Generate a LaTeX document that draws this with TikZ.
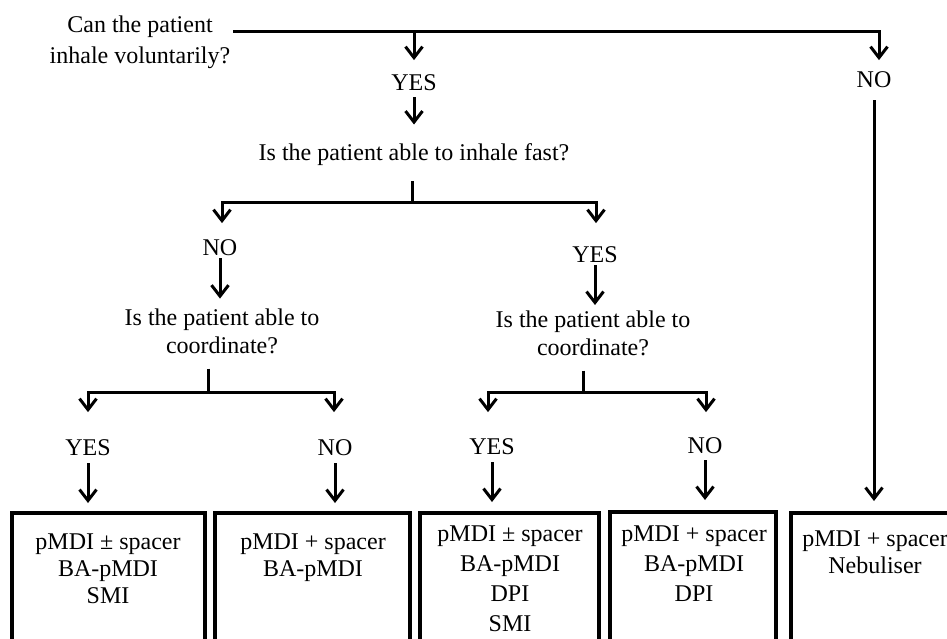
\documentclass[tikz,border=0pt]{standalone}
\usepackage{fontspec}
\setmainfont{Liberation Serif}
\usetikzlibrary{arrows.meta,calc}
\begin{document}
\begin{tikzpicture}[x=1pt,y=-1pt,
  lbl/.style={inner sep=0pt, outer sep=0pt, font=\fontsize{24}{28}\selectfont},
  conn/.style={line width=3pt},
  arr/.style={line width=3pt, -{Straight Barb[length=11pt,width=17pt]}},
  box/.style={draw, line width=3.5pt, inner sep=0pt, outer sep=0pt, anchor=north west, minimum height=150pt}
]
\useasboundingbox (0,0) rectangle (947,638);
\clip (0,0) rectangle (947,638);

% top question
\node[lbl, align=center, anchor=north, font=\fontsize{24}{31}\selectfont] (q1) at (140,15.7) {Can the patient\\inhale voluntarily?};
\coordinate (t0) at (233,31);
\coordinate (t1) at (414,31);
\coordinate (t2) at (879,31);
\node[lbl, anchor=base] (yes1) at (414,90) {YES};
\node[lbl, anchor=base] (no1) at (874,87) {NO};
\draw[arr, shorten >=11pt] (t0) -- (t2) -- (t2 |- no1.north);
\draw[arr, shorten >=14pt] (t1) -- (t1 |- yes1.north);

% second question
\node[lbl, anchor=base] (q2) at (414,160) {Is the patient able to inhale fast?};
\draw[arr, shorten <=7pt, shorten >=18.6pt] (yes1.south) -- (yes1.south |- q2.north);
\coordinate (b2) at (412,202);
\coordinate (b2L) at (222,202);
\coordinate (b2R) at (596,202);
\draw[conn, shorten <=16pt] (b2 |- q2.south) -- (b2);
\node[lbl, anchor=base] (no2) at (220,255) {NO};
\node[lbl, anchor=base] (yes2) at (595,262) {YES};
\draw[arr, shorten >=16pt] (b2) -- (b2L) -- (b2L |- no2.north);
\draw[arr, shorten >=23pt] (b2) -- (b2R) -- (b2R |- yes2.north);

% coordinate questions
\node[lbl, align=center, anchor=north] (q3L) at (222,308.6) {Is the patient able to\\coordinate?};
\node[lbl, align=center, anchor=north] (q3R) at (593,310.6) {Is the patient able to\\coordinate?};
\draw[arr, shorten <=3pt, shorten >=10pt] (no2.south) -- (no2.south |- q3L.north);
\draw[arr, shorten <=3pt, shorten >=5.6pt] (yes2.south) -- (yes2.south |- q3R.north);

\coordinate (b3L) at (208,392);
\coordinate (b3R) at (583,392);
\draw[conn, shorten <=15pt] (b3L |- q3L.south) -- (b3L);
\draw[conn, shorten <=15pt] (b3R |- q3R.south) -- (b3R);
\coordinate (b3LL) at (88,392);
\coordinate (b3LR) at (334,392);
\coordinate (b3RL) at (488,392);
\coordinate (b3RR) at (706,392);

\node[lbl, anchor=base] (yes3) at (88,455) {YES};
\node[lbl, anchor=base] (no3) at (335,455) {NO};
\node[lbl, anchor=base] (yes4) at (492,454) {YES};
\node[lbl, anchor=base] (no4) at (705,453) {NO};

\draw[arr, shorten >=27pt] (b3L) -- (b3LL) -- (b3LL |- yes3.north);
\draw[arr, shorten >=27pt] (b3L) -- (b3LR) -- (b3LR |- no3.north);
\draw[arr, shorten >=26pt] (b3R) -- (b3RL) -- (b3RL |- yes4.north);
\draw[arr, shorten >=25pt] (b3R) -- (b3RR) -- (b3RR |- no4.north);

% boxes
\node[box, minimum width=193pt] (box1) at (12,513) {};
\node[box, minimum width=195pt] (box2) at (215,513) {};
\node[box, minimum width=179pt] (box3) at (420,513) {};
\node[box, minimum width=166pt] (box4) at (610,512) {};
\node[box, minimum width=170pt] (box5) at (791,513) {};

\draw[arr, shorten <=8pt, shorten >=10pt] (yes3.south) -- (yes3.south |- box1.north);
\draw[arr, shorten <=8pt, shorten >=10pt] (no3.south) -- (no3.south |- box2.north);
\draw[arr, shorten <=8pt, shorten >=11pt] (yes4.south) -- (yes4.south |- box3.north);
\draw[arr, shorten <=7pt, shorten >=12pt] (no4.south) -- (no4.south |- box4.north);
\draw[arr, shorten <=13pt, shorten >=12pt] (no1.south) -- (no1.south |- box5.north);

\node[lbl, align=center, anchor=north, font=\fontsize{24}{27}\selectfont] (box1t) at (108,534.1) {pMDI ± spacer\\BA-pMDI\\SMI};
\node[lbl, align=center, anchor=north, font=\fontsize{24}{27}\selectfont] (box2t) at (313,534.1) {pMDI + spacer\\BA-pMDI};
\node[lbl, align=center, anchor=north, font=\fontsize{24}{30}\selectfont] (box3t) at (510,526.1) {pMDI ± spacer\\BA-pMDI\\DPI\\SMI};
\node[lbl, align=center, anchor=north, font=\fontsize{24}{30}\selectfont] (box4t) at (694,526.1) {pMDI + spacer\\BA-pMDI\\DPI};
\node[lbl, align=center, anchor=north, font=\fontsize{24}{27}\selectfont] (box5t) at (875,531.1) {pMDI + spacer\\Nebuliser};
\end{tikzpicture}
\end{document}
